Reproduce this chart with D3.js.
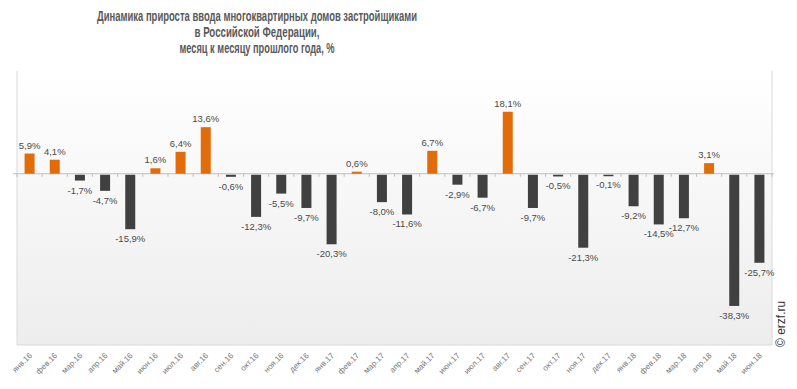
<!DOCTYPE html>
<meta charset="utf-8">
<style>
    body { margin: 0; background: #fff; }
    .title { font-family: "Liberation Sans", Arial, sans-serif; font-weight: bold; font-size: 14px; fill: #595959; }
    .val { font-family: "Liberation Sans", Arial, sans-serif; font-size: 9.5px; fill: #4a4a4a; }
    .xlab { font-family: "Liberation Sans", Arial, sans-serif; font-size: 8px; fill: #777; }
</style>
<body>
<script src="https://d3js.org/d3.v7.min.js"></script>
<script>
    // months and growth values, %
    var months = ["янв.16", "фев.16", "мар.16", "апр.16", "май.16", "июн.16", "июл.16", "авг.16", "сен.16", "окт.16",
        "ноя.16", "дек.16", "янв.17", "фев.17", "мар.17", "апр.17", "май.17", "июн.17", "июл.17", "авг.17",
        "сен.17", "окт.17", "ноя.17", "дек.17", "янв.18", "фев.18", "мар.18", "апр.18", "май.18", "июн.18"];
    var values = [5.9, 4.1, -1.7, -4.7, -15.9, 1.6, 6.4, 13.6, -0.6, -12.3,
        -5.5, -9.7, -20.3, 0.6, -8.0, -11.6, 6.7, -2.9, -6.7, 18.1,
        -9.7, -0.5, -21.3, -0.1, -9.2, -14.5, -12.7, 3.1, -38.3, -25.7];
    var titleLines = ["Динамика прироста ввода многоквартирных  домов застройщиками",
        "в Российской Федерации,",
        "месяц к месяцу прошлого года, %"];
    var titleWidths = [320, 125, 155]; // condensed look of the original font

    var W = 797, H = 389;
    var plot = { left: 17, right: 772, top: 71, bottom: 345 };

    var svg = d3.select("body").append("svg")
        .attr("width", W).attr("height", H);

    var defs = svg.append("defs");
    var grad = defs.append("linearGradient").attr("id", "bg")
        .attr("x1", 0).attr("y1", 0).attr("x2", 0).attr("y2", 1);
    grad.append("stop").attr("offset", "0%").attr("stop-color", "#ffffff");
    grad.append("stop").attr("offset", "100%").attr("stop-color", "#ededed");

    var xb = d3.scaleBand().domain(months).range([plot.left, plot.right]);
    var y = d3.scaleLinear().domain([-50, 30]).range([plot.bottom, plot.top]);

    // plot background
    svg.append("rect")
        .attr("x", plot.left).attr("y", plot.top)
        .attr("width", plot.right - plot.left).attr("height", plot.bottom - plot.top)
        .attr("fill", "url(#bg)");
    svg.append("path")
        .attr("d", "M" + plot.left + "," + plot.top + "V" + plot.bottom + "H" + plot.right + "V" + plot.top)
        .attr("fill", "none").attr("stroke", "#d9d9d9");

    // title
    svg.append("g").selectAll("text").data(titleLines).enter().append("text")
        .attr("class", "title")
        .attr("x", 257).attr("y", function (d, i) { return 21 + i * 16; })
        .attr("text-anchor", "middle")
        .attr("textLength", function (d, i) { return titleWidths[i]; })
        .attr("lengthAdjust", "spacingAndGlyphs")
        .text(function (d) { return d; });

    // zero axis with category ticks
    var axis = svg.append("g").attr("transform", "translate(0," + y(0) + ")");
    axis.append("line").attr("x1", plot.left - 4).attr("x2", plot.right + 2)
        .attr("stroke", "#bfbfbf");
    axis.selectAll(".tk").data(months.concat(["end"])).enter().append("line")
        .attr("x1", function (d, i) { return plot.left + i * xb.bandwidth(); })
        .attr("x2", function (d, i) { return plot.left + i * xb.bandwidth(); })
        .attr("y1", 0).attr("y2", 3)
        .attr("stroke", "#bfbfbf");

    // bars
    svg.append("g").selectAll("rect").data(values).enter().append("rect")
        .attr("x", function (d, i) { return xb(months[i]) + (xb.bandwidth() - 10) / 2; })
        .attr("width", 10)
        .attr("y", function (d) { return d >= 0 ? y(d) : y(0) + 1; })
        .attr("height", function (d) { return Math.max(1.5, Math.abs(y(d) - y(0))); })
        .attr("fill", function (d) { return d >= 0 ? "#e36c0a" : "#404040"; });

    // value labels
    svg.append("g").selectAll("text").data(values).enter().append("text")
        .attr("class", "val")
        .attr("x", function (d, i) { return xb(months[i]) + xb.bandwidth() / 2; })
        .attr("y", function (d) { return d >= 0 ? y(d) - 5 : y(d) + 14; })
        .attr("text-anchor", "middle")
        .text(function (d) { return d.toFixed(1).replace(".", ",") + "%"; });

    // x labels
    svg.append("g").selectAll("text").data(months).enter().append("text")
        .attr("class", "xlab")
        .attr("text-anchor", "end")
        .attr("transform", function (d) {
            return "translate(" + (xb(d) + xb.bandwidth() / 2 + 3) + "," + 356 + ") rotate(-45)";
        })
        .text(function (d) { return d; });

    // copyright
    svg.append("text")
        .attr("transform", "translate(785,347) rotate(-90)")
        .style("font-family", "Liberation Sans, Arial, sans-serif")
        .style("font-size", "12px")
        .attr("fill", "#333")
        .text("© erzf.ru");
</script>
</body>
